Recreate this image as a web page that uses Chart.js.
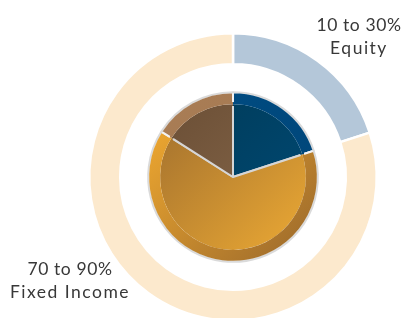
<!DOCTYPE html>
<html>
<head>
<meta charset="utf-8">
<script src="https://cdn.jsdelivr.net/npm/chart.js@4"></script>
<style>
  html, body { margin: 0; padding: 0; width: 404px; height: 318px; overflow: hidden; background: #fff; }
  #wrap { position: absolute; left: 0; top: 0; width: 466px; height: 354px; }
  .lbl { position: absolute; width: 140px; text-align: center; font-family: Lato, "Open Sans", sans-serif;
         font-weight: 400; font-size: 17.5px; line-height: 23px; color: #383838; letter-spacing: 0.6px; }
  .lbl .name { letter-spacing: 1.5px; }
</style>
</head>
<body>
<div id="wrap"><canvas id="allocChart"></canvas></div>
<div class="lbl" id="lblEquity" style="left:289px; top:13px;"></div>
<div class="lbl" id="lblFixed" style="left:0px; top:257px;"></div>
<script>
// outer ring: target ranges
const outerLabels = ["Equity", "Fixed Income"];
const outerValues = [20, 80];
const rangeText = ["10 to 30%", "70 to 90%"];

// inner pie: current mix
const innerLabels = ["Equity", "Fixed Income", "Other"];
const innerValues = [20, 64, 16];

const outerColors = ["#b4c7d9", "#fce9cd"];
// [rim start, rim end, core start, core end]
const innerShades = [
  ["#004c82", "#004578", "#003b58", "#004a76"],
  ["#f0a930", "#a06d2c", "#a2702e", "#eaa834"],
  ["#a97d55", "#a07550", "#6b4f36", "#8a6a4c"],
];

document.getElementById("lblEquity").innerHTML = rangeText[0] + '<br><span class="name">' + outerLabels[0] + "</span>";
document.getElementById("lblFixed").innerHTML = rangeText[1] + '<br><span class="name">' + outerLabels[1] + "</span>";

function centerOf(chart) {
  const a = chart.chartArea;
  return { x: (a.left + a.right) / 2, y: (a.top + a.bottom) / 2 };
}

function shade(which) {
  return function (context) {
    const s = innerShades[context.dataIndex];
    if (!context.chart.chartArea) return s[which];
    const c = centerOf(context.chart);
    const g = context.chart.ctx.createLinearGradient(c.x - 70, c.y - 70, c.x + 70, c.y + 70);
    g.addColorStop(0, s[which]);
    g.addColorStop(1, s[which + 1]);
    return g;
  };
}

// border colour by radius, so the rim/core seam gets no line
function seam(inside, edge) {
  return function (context) {
    const none = "rgba(255,255,255,0)";
    if (!context.chart.chartArea) return none;
    const ctrl = context.chart.getDatasetMeta(context.datasetIndex).controller;
    const r0 = ctrl.innerRadius, r1 = ctrl.outerRadius;
    if (!isFinite(r0) || !isFinite(r1) || r1 <= 0) return none;
    const c = centerOf(context.chart);
    const g = context.chart.ctx.createRadialGradient(c.x, c.y, 0, c.x, c.y, r1 + 2);
    const k = (r) => Math.min(1, Math.max(0, r / (r1 + 2)));
    g.addColorStop(0, r0 > 0 ? none : inside);
    if (r0 > 0) {
      g.addColorStop(k(r0 + 1.6), none);
      g.addColorStop(k(r0 + 2.2), inside);
    }
    if (edge === none) {
      g.addColorStop(k(r1 - 2.2), inside);
      g.addColorStop(k(r1 - 1.6), none);
    } else {
      g.addColorStop(k(r1 - 1.5), inside);
      g.addColorStop(k(r1 - 0.9), edge);
    }
    g.addColorStop(1, edge);
    return g;
  };
}

const ctx = document.getElementById("allocChart").getContext("2d");
const allocChart = new Chart(ctx, {
  type: "doughnut",
  data: {
    labels: innerLabels,
    datasets: [
      {
        data: outerValues,
        backgroundColor: outerColors,
        borderColor: "#ffffff",
        borderWidth: 2.5,
        weight: 31,
      },
      {
        data: [100],
        backgroundColor: "rgba(0,0,0,0)",
        borderWidth: 0,
        weight: 28,
      },
      {
        data: innerValues,
        backgroundColor: shade(0),
        borderColor: seam("#f2f2f2", "#dadada"),
        borderWidth: 2,
        weight: 12,
      },
      {
        data: innerValues,
        backgroundColor: shade(2),
        borderColor: seam("#d6d6d6", "rgba(255,255,255,0)"),
        borderWidth: 2,
        weight: 73,
      },
    ],
  },
  options: {
    responsive: true,
    maintainAspectRatio: false,
    animation: false,
    cutout: 0,
    layout: { padding: { top: 32, bottom: 32, left: 88, right: 88 } },
    plugins: { legend: { display: false }, tooltip: { enabled: false } },
  },
});
</script>
</body>
</html>
